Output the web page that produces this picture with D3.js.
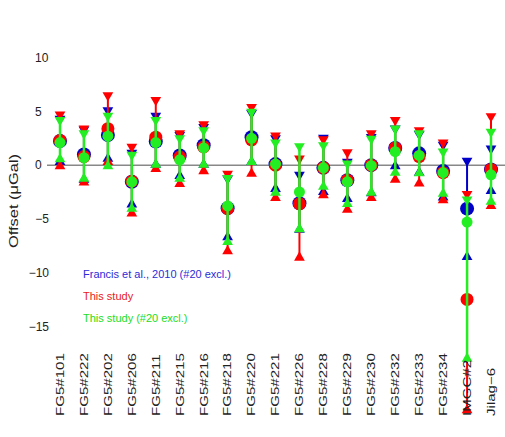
<!DOCTYPE html>
<html>
<head>
<meta charset="utf-8">
<script src="https://cdn.jsdelivr.net/npm/d3@7"></script>
<style>
    body { margin: 0; background: #fff; }
    text { font-family: "Liberation Sans", Arial, sans-serif; }
</style>
</head>
<body>
<div id="chart"></div>
<script>
// instruments along the x axis
const instruments = ["FG5#101", "FG5#222", "FG5#202", "FG5#206", "FG5#211", "FG5#215",
    "FG5#216", "FG5#218", "FG5#220", "FG5#221", "FG5#226", "FG5#228", "FG5#229",
    "FG5#230", "FG5#232", "FG5#233", "FG5#234", "IMGC#2", "Jilag\u22126"];
const yTicks = [10, 5, 0, -5, -10, -15];

// Francis et al., 2010 (#20 excl.)
const blueVal = [2.25, 1.0, 2.8, -1.55, 2.2, 0.9, 1.85, -4.0, 2.6, 0.1, -3.55, -0.25, -1.4, 0.0, 1.6, 1.1, -0.55, -4.05, -0.4];
const blueLo = [0.3, -1.35, 0.6, -3.65, 0.05, -1.0, 0.05, -6.7, 0.3, -2.2, -6.0, -2.5, -3.15, -2.6, -0.1, -0.7, -3.0, -8.55, -2.4];
const blueHi = [4.3, 3.3, 5.1, 1.15, 4.6, 2.8, 3.55, -1.25, 4.85, 2.5, -0.9, 2.55, 0.3, 2.6, 3.4, 2.9, 1.9, 0.4, 1.55];

// This study
const redVal = [2.3, 0.8, 3.4, -1.5, 2.6, 0.75, 1.7, -4.05, 2.35, 0.0, -3.6, -0.25, -1.4, 0.0, 1.6, 0.8, -0.7, -12.5, -0.4];
const redLo = [-0.1, -1.6, 0.3, -4.5, -0.35, -1.75, -0.55, -8.0, -0.8, -3.05, -8.6, -2.8, -4.15, -3.05, -1.35, -1.7, -3.25, -22.8, -3.8];
const redHi = [4.7, 3.4, 6.5, 1.7, 6.05, 2.95, 3.8, -0.8, 5.4, 2.75, 0.6, 2.4, 1.2, 2.95, 4.2, 3.25, 2.1, -2.7, 4.55];

// This study (#20 excl.)
const greenVal = [2.1, 0.7, 2.7, -1.55, 2.1, 0.5, 1.6, -3.8, 2.5, 0.1, -2.5, -0.25, -1.55, -0.05, 1.25, 0.9, -0.7, -5.3, -0.9];
const greenLo = [0.55, -1.25, -0.1, -4.05, 0.05, -1.25, 0.05, -7.15, 0.3, -2.55, -5.95, -2.0, -3.6, -2.55, -0.7, -0.75, -2.65, -18.0, -3.4];
const greenHi = [4.2, 2.95, 4.6, 0.95, 4.2, 2.5, 3.25, -1.2, 4.95, 2.1, 1.75, 1.85, 0.15, 2.45, 3.4, 2.95, 1.25, -3.2, 3.1];

const width = 505,
    height = 437,
    stretch = 1.37; // the original figure is squeezed sideways, rotated text comes out long

const series = [
    {label: "Francis et al., 2010 (#20 excl.)", color: "#0000c8", text: "#2b2bd8", r: 7, sw: 2, val: blueVal, lo: blueLo, hi: blueHi},
    {label: "This study", color: "#ff0000", text: "#e8201c", r: 6.5, sw: 2, val: redVal, lo: redLo, hi: redHi},
    {label: "This study (#20 excl.)", color: "#22ee22", text: "#22dd22", r: 5.5, sw: 2.5, val: greenVal, lo: greenLo, hi: greenHi}
];

const xScale = d3.scalePoint()
    .domain(instruments)
    .range([60, 491]);

const yScale = d3.scaleLinear()
    .domain([-24, 15])
    .range([423, 4]);

const svg = d3.select("#chart")
    .append("svg")
    .attr("width", width)
    .attr("height", height);

// zero line
svg.append("line")
    .attr("x1", 47)
    .attr("x2", width)
    .attr("y1", yScale(0))
    .attr("y2", yScale(0))
    .attr("stroke", "#888")
    .attr("stroke-width", 1.5);

// y axis, labels only
const yAxis = svg.append("g")
    .attr("transform", "translate(49,0)")
    .call(d3.axisLeft(yScale).tickValues(yTicks).tickSize(0).tickPadding(0));
yAxis.select(".domain").remove();
yAxis.selectAll("text")
    .attr("font-size", 12)
    .attr("font-family", "Liberation Sans, Arial, sans-serif")
    .attr("fill", "#222")
    .attr("text-anchor", (d) => d < 0 ? "end" : "start")
    .attr("x", (d) => d < 0 ? 0 : -14);

svg.append("text")
    .attr("transform", `translate(18,201) rotate(-90) scale(${stretch},1)`)
    .attr("text-anchor", "middle")
    .attr("font-size", 12)
    .attr("fill", "#222")
    .text("Offset (\u03bcGal)");

const tri = d3.symbol().type(d3.symbolTriangle).size(50);

series.forEach((s) => {
    const g = svg.append("g");
    instruments.forEach((name, i) => {
        const x = xScale(name);
        g.append("line")
            .attr("x1", x).attr("x2", x)
            .attr("y1", yScale(s.lo[i]))
            .attr("y2", yScale(s.hi[i]))
            .attr("stroke", s.color)
            .attr("stroke-width", s.sw);
        // top cap points down, bottom cap points up
        g.append("path")
            .attr("d", tri)
            .attr("transform", `translate(${x},${yScale(s.hi[i])}) rotate(180)`)
            .attr("fill", s.color);
        g.append("path")
            .attr("d", tri)
            .attr("transform", `translate(${x},${yScale(s.lo[i])})`)
            .attr("fill", s.color);
        g.append("circle")
            .attr("cx", x)
            .attr("cy", yScale(s.val[i]))
            .attr("r", s.r)
            .attr("fill", s.color);
    });
});

// legend
series.forEach((s, i) => {
    svg.append("text")
        .attr("x", 83)
        .attr("y", 278 + i * 22)
        .attr("font-size", 11)
        .attr("fill", s.text)
        .text(s.label);
});

// instrument labels
svg.append("g")
    .selectAll("text")
    .data(instruments)
    .join("text")
    .attr("transform", (d) => `translate(${xScale(d)},416) rotate(-90) scale(${stretch},1)`)
    .attr("dy", "0.35em")
    .attr("font-size", 11)
    .attr("fill", "#222")
    .text((d) => d);
</script>
</body>
</html>
